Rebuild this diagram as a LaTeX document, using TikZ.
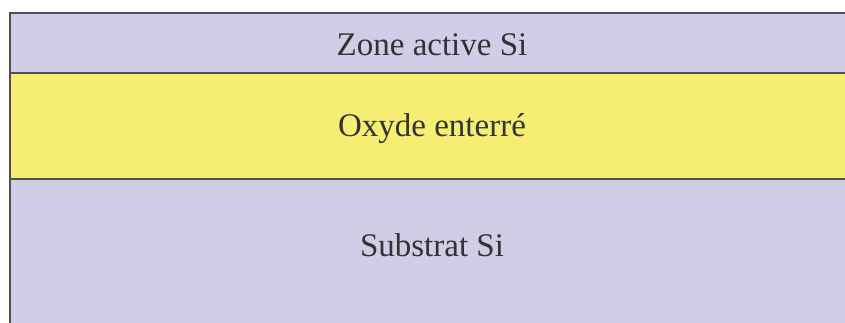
\documentclass[tikz,border=0pt]{standalone}
\usepackage{fontspec}
\setmainfont{Liberation Serif}
\definecolor{lav}{RGB}{208,206,230}
\definecolor{oxy}{RGB}{245,238,115}
\definecolor{edge}{RGB}{80,80,80}
\tikzset{
  layer/.style={draw=edge, line width=2pt},
  lbl/.style={font=\fontsize{33}{38}\selectfont, text=black!80, inner sep=0pt, anchor=center}
}
\begin{document}
\begin{tikzpicture}[x=1pt,y=-1pt]
\useasboundingbox (0,0) rectangle (845,322);
\clip (0,0) rectangle (845,322);
\fill[white] (0,0) rectangle (845,322);
\path[layer, fill=lav] (10,13) rectangle (870,73);
\path[layer, fill=oxy] (10,73) rectangle (870,179);
\path[layer, fill=lav] (10,179) rectangle (870,340);
\node[lbl] (zone) at (432,45) {Zone active Si};
\node[lbl] (oxyde) at (432,129) {Oxyde enterré};
\node[lbl] (sub) at (432,245) {Substrat Si};
\end{tikzpicture}
\end{document}
